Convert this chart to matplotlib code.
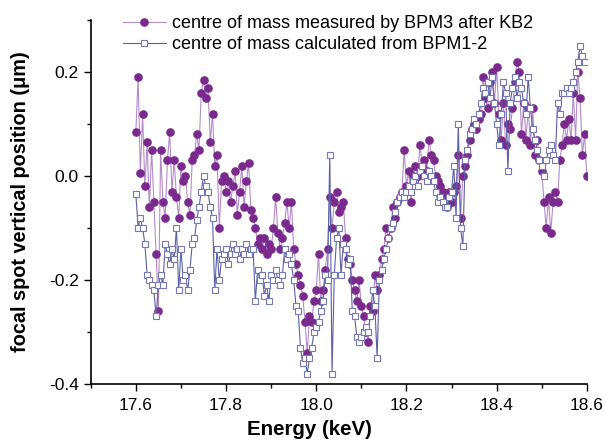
import numpy as np
import matplotlib
matplotlib.use("Agg")
import matplotlib.pyplot as plt
from matplotlib.ticker import MultipleLocator, FormatStrFormatter

plt.rcParams['font.family'] = ['Liberation Sans', 'DejaVu Sans']
plt.rcParams['axes.unicode_minus'] = False

# energy scan (keV), 5 eV steps
e_start, e_step = 17.600, 0.005

# centre of mass measured by BPM3 after KB2 (um)
bpm3 = [
    0.085, 0.19, 0.005, 0.12, -0.02, 0.065, -0.06, 0.05, -0.05, -0.15,
    -0.26, 0.05, -0.05, -0.08, 0.03, 0.085, -0.03, 0.03, -0.04, -0.08,
    0.02, -0.01, 0.0, -0.05, -0.075, 0.03, 0.04, 0.08, 0.05, 0.16,
    0.185, 0.15, 0.17, 0.065, 0.12, 0.02, 0.04, -0.1, -0.01, 0.0,
    -0.03, -0.01, -0.05, -0.02, 0.01, -0.075, -0.03, 0.02, -0.06, -0.01,
    0.025, -0.065, -0.08, -0.1, -0.13, -0.12, -0.14, -0.12, -0.15, -0.13,
    -0.14, -0.1, -0.04, -0.11, -0.14, -0.12, -0.09, -0.05, -0.1, -0.05,
    -0.14, -0.17, -0.19, -0.21, -0.23, -0.28, -0.34, -0.27, -0.28, -0.24,
    -0.22, -0.15, -0.24, -0.22, -0.18, -0.14, -0.04, -0.1, -0.05, -0.03,
    -0.07, -0.06, -0.05, -0.12, -0.16, -0.17, -0.2, -0.22, -0.24, -0.2,
    -0.25, -0.27, -0.3, -0.32, -0.25, -0.26, -0.19, -0.22, -0.19, -0.16,
    -0.14, -0.1, -0.12, -0.1, -0.06, -0.08, -0.05, -0.04, -0.03, 0.05,
    -0.02, 0.01, -0.05, 0.0, 0.02, 0.0, 0.06, 0.02, 0.03, 0.01,
    0.07, 0.04, 0.03, 0.0, -0.01, -0.02, -0.03, -0.035, -0.06, -0.03,
    -0.05, -0.03, -0.02, 0.04, -0.08, 0.0, 0.02, 0.04, 0.07, 0.09,
    0.1, 0.09, 0.11, 0.12, 0.19, 0.15, 0.13, 0.18, 0.2, 0.14,
    0.21, 0.12, 0.07, 0.14, 0.06, 0.1, 0.09, 0.13, 0.18, 0.22,
    0.2, 0.08, 0.14, 0.07, 0.13, 0.06, 0.13, 0.04, 0.07, 0.03,
    0.01, -0.05, -0.1, -0.04, -0.11, -0.05, -0.03, -0.05, 0.03, 0.06,
    0.1, 0.07, 0.11, 0.07, 0.16, 0.07, 0.2, 0.15, 0.04, 0.08,
    0.0,
]

# centre of mass calculated from BPM1-2 (um)
bpm12 = [
    -0.035, -0.1, -0.08, -0.1, -0.13, -0.19, -0.2, -0.21, -0.22, -0.27,
    -0.21, -0.19, -0.21, -0.13, -0.15, -0.17, -0.14, -0.16, -0.1, -0.22,
    -0.14, -0.2, -0.19, -0.22, -0.18, -0.13, -0.12, -0.085, -0.06, -0.03,
    0.0, -0.02, -0.03, -0.06, -0.08, -0.22, -0.14, -0.2, -0.16, -0.15,
    -0.14, -0.17, -0.15, -0.13, -0.15, -0.14, -0.16, -0.14, -0.15, -0.13,
    -0.15, -0.14, -0.14, -0.24, -0.18, -0.2, -0.19, -0.23, -0.21, -0.24,
    -0.19, -0.2, -0.18, -0.2, -0.21, -0.19, -0.14, -0.16, -0.15, -0.17,
    -0.2, -0.25, -0.26, -0.33, -0.36, -0.35, -0.38, -0.35, -0.33, -0.3,
    -0.29, -0.28, -0.26, -0.24, -0.19, -0.2, 0.04, -0.38, -0.19, -0.12,
    -0.1, -0.19, -0.13, -0.14, -0.17, -0.16, -0.26, -0.27, -0.31, -0.32,
    -0.31, -0.3, -0.29, -0.3, -0.27, -0.22, -0.25, -0.35, -0.2, -0.18,
    -0.16, -0.14, -0.12, -0.1, -0.09, -0.07, -0.05, -0.04, -0.03, -0.04,
    -0.03, -0.02, -0.03, -0.01, 0.0, -0.02, 0.01, 0.02, 0.0, -0.01,
    0.01, 0.0, -0.01, -0.03, -0.05, -0.04, -0.05, -0.06, -0.06, -0.04,
    -0.03, 0.02, -0.08, 0.1, -0.1, -0.135, 0.03, 0.05, 0.08, 0.09,
    0.11, 0.1, 0.12, 0.14, 0.17, 0.16, 0.18, 0.15, 0.19, 0.14,
    0.1, 0.06, 0.12, 0.18, 0.16, 0.01, 0.14, 0.17, 0.19, 0.15,
    0.18, 0.17, 0.14, 0.12, 0.19, 0.13, 0.09, 0.07, 0.05, 0.03,
    0.02, 0.0, 0.03, 0.05, 0.06, 0.04, 0.03, 0.14, 0.12, 0.16,
    0.16, 0.17, 0.16, 0.17, 0.18, 0.2, 0.22, 0.25, 0.23, 0.22,
]

e_bpm3 = e_start + e_step * np.arange(len(bpm3))
e_bpm12 = e_start + e_step * np.arange(len(bpm12))

fig = plt.figure(figsize=(6.05, 4.43), dpi=100)
ax = fig.add_axes([0.150, 0.133, 0.820, 0.822])

ax.plot(e_bpm3, bpm3, '-o', color='#b48cc8', lw=0.8,
        marker='o', ms=5.2, mfc='#7a2a8c', mec='#7a2a8c',
        label='centre of mass measured by BPM3 after KB2')
ax.plot(e_bpm12, bpm12, '-s', color='#5c60a4', lw=0.8,
        marker='s', ms=4.5, mfc='white', mec='#7478b4', mew=0.8,
        label='centre of mass calculated from BPM1-2')

ax.set_xlim(17.5, 18.6)
ax.set_ylim(-0.4, 0.3)
ax.xaxis.set_major_locator(MultipleLocator(0.2))
ax.xaxis.set_minor_locator(MultipleLocator(0.1))
ax.yaxis.set_major_locator(MultipleLocator(0.2))
ax.yaxis.set_minor_locator(MultipleLocator(0.1))
ax.xaxis.set_major_formatter(FormatStrFormatter('%.1f'))
ax.yaxis.set_major_formatter(FormatStrFormatter('%.1f'))
ax.tick_params(which='both', direction='out', labelsize=12.5, width=1)
ax.tick_params(which='major', length=5)
ax.tick_params(which='minor', length=3)
ax.tick_params(axis='x', pad=5)
for s in ('top', 'right'):
    ax.spines[s].set_visible(False)
for s in ('left', 'bottom'):
    ax.spines[s].set_linewidth(1.2)

ax.set_xlabel('Energy (keV)', fontsize=14.8, fontweight='bold')
ax.xaxis.set_label_coords(0.44, -0.098)
ax.set_ylabel('focal spot vertical position (\u03bcm)', fontsize=14.3,
              fontweight='bold', labelpad=14)

ax.legend(loc='upper left', bbox_to_anchor=(0.185, 0.99),
          bbox_transform=fig.transFigure, frameon=False, fontsize=13,
          handlelength=2.4, handletextpad=0.35, labelspacing=0.22,
          borderaxespad=0.2)

fig.savefig('out.png', dpi=100)
